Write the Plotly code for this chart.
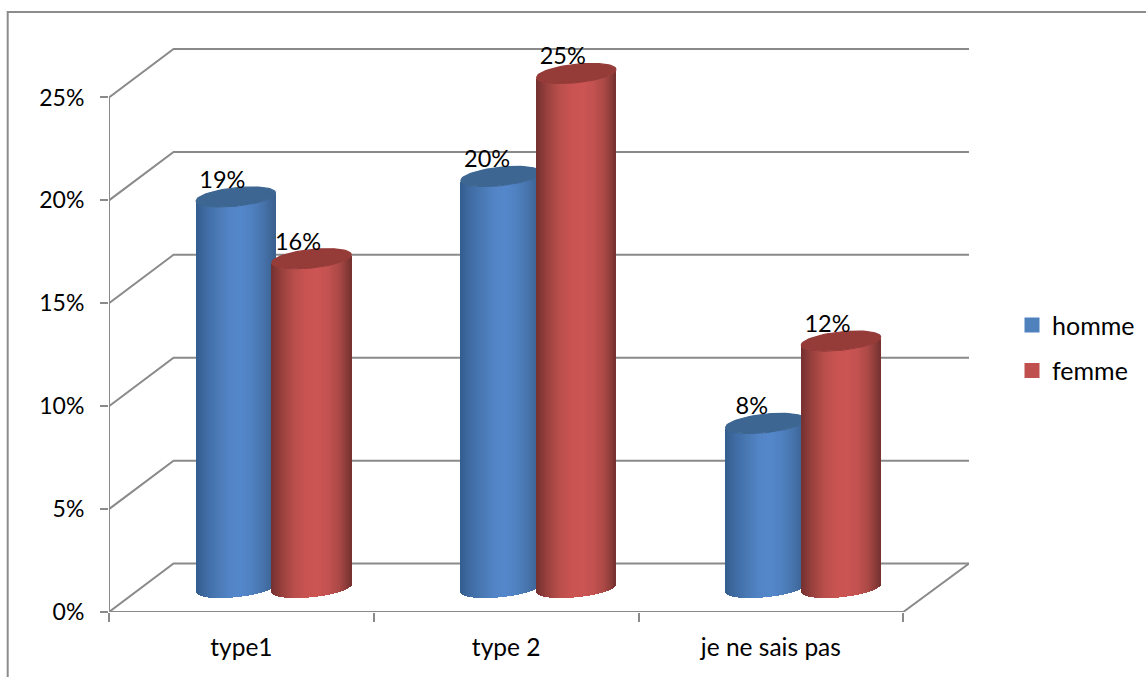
import math
import plotly.graph_objects as go

# Chart data
categories = ["type1", "type 2", "je ne sais pas"]
homme = [19, 20, 8]
femme = [16, 25, 12]
y_ticks = [0, 5, 10, 15, 20, 25]

# Drawing styles
FONT = "Lato"
GRID = "#8a8a8a"
SHADE_BLUE = ["#335d8e", "#406da5", "#4a79b5", "#5284c6", "#5487cb", "#4f80bf", "#4673aa", "#3a608f"]
SHADE_RED = ["#743030", "#9a413e", "#b84e4b", "#c85351", "#cc5553", "#c25250", "#a94845", "#763230"]
CAP_BLUE = "#3d6692"
CAP_RED = "#953b38"

# Pseudo-3D geometry, in axis units
DEPTH_X = 0.2438       # horizontal shift of the back wall
DEPTH_Y = 2.354        # vertical shift of the back wall
FLOOR = 1.165          # height of the cylinder base centres
RX = 0.15              # cylinder radius along x
TILT = 0.195           # rise of the ellipse's right end along y
RY = 0.447             # ellipse half height
OFFSETS = (0.479, 0.765)
SLICES = 80

X_MAX = 3.2483
Y_MAX = 27.451


def hex_rgb(c):
    return tuple(int(c[i:i + 2], 16) for i in (1, 3, 5))


def shade(stops, t):
    p = t * (len(stops) - 1)
    i = min(int(p), len(stops) - 2)
    f = p - i
    a, b = hex_rgb(stops[i]), hex_rgb(stops[i + 1])
    return "rgb(%d,%d,%d)" % tuple(round(a[k] + (b[k] - a[k]) * f) for k in range(3))


def lower_edge(u):
    """Height of the ellipse's lower rim, u running from -1 to 1 across it."""
    return TILT * u - RY * math.sqrt(max(0.0, 1 - u * u))


def cylinder(center, value, stops, cap, xaxis, yaxis):
    """A shaded body made of thin bars of the full value height, plus its cap."""
    step = 2 * RX / SLICES
    xs, bases, heights, colors = [], [], [], []
    for k in range(SLICES):
        u = -1 + (k + 0.5) * 2 / SLICES
        xs.append(center + u * RX)
        bases.append(FLOOR + lower_edge(u))
        heights.append(value)
        colors.append(shade(stops, (k + 0.5) / SLICES))
    body = go.Bar(x=xs, y=heights, base=bases, width=step * 1.05,
                  marker=dict(color=colors, line=dict(width=0)),
                  showlegend=False, hoverinfo="skip", xaxis=xaxis, yaxis=yaxis)
    angles = [2 * math.pi * j / 72 for j in range(73)]
    top = FLOOR + value
    lid = go.Scatter(x=[center + RX * math.cos(a) for a in angles],
                     y=[top + TILT * math.cos(a) + RY * math.sin(a) for a in angles],
                     mode="lines", fill="toself", fillcolor=cap, line=dict(width=1.2, color=cap),
                     showlegend=False, hoverinfo="skip", xaxis=xaxis, yaxis=yaxis)
    return [body, lid]


fig = go.Figure()

# Walls and floor
line_style = dict(color=GRID, width=2)
for v in y_ticks:
    fig.add_trace(go.Scatter(x=[0, DEPTH_X, X_MAX], y=[v, v + DEPTH_Y, v + DEPTH_Y],
                             mode="lines", line=line_style, showlegend=False,
                             hoverinfo="skip", cliponaxis=False))
fig.add_trace(go.Scatter(x=[0, 0, 3, X_MAX], y=[y_ticks[-1], 0, 0, DEPTH_Y],
                         mode="lines", line=line_style, showlegend=False,
                         hoverinfo="skip", cliponaxis=False))

# Legend entries
for name, color in (("homme", "#4f81bd"), ("femme", "#c0504d")):
    fig.add_trace(go.Scatter(x=[None], y=[None], mode="markers", name=name, legendgroup=name,
                             marker=dict(symbol="square", size=15, color=color)))

# Cylinders: each series has its own overlaid subplot so red sits over blue
for i in range(len(categories)):
    for t in cylinder(i + OFFSETS[0], homme[i], SHADE_BLUE, CAP_BLUE, "x2", "y2"):
        fig.add_trace(t)
for i in range(len(categories)):
    for t in cylinder(i + OFFSETS[1], femme[i], SHADE_RED, CAP_RED, "x3", "y3"):
        fig.add_trace(t)

# Value labels
label_x, label_y, label_text = [], [], []
for i in range(len(categories)):
    for off, val in ((OFFSETS[0], homme[i]), (OFFSETS[1], femme[i])):
        label_x.append(i + off - 0.051)
        label_y.append(FLOOR + val + 0.73)
        label_text.append(f"{val}%")
fig.add_trace(go.Scatter(x=label_x, y=label_y, text=label_text, mode="text",
                         textposition="middle center",
                         textfont=dict(family=FONT, size=23.5, color="black"),
                         showlegend=False, hoverinfo="skip", cliponaxis=False,
                         xaxis="x3", yaxis="y3"))

hidden_x = dict(range=[0, X_MAX], overlaying="x", visible=False, fixedrange=True)
hidden_y = dict(range=[0, Y_MAX], overlaying="y", visible=False, fixedrange=True)

fig.update_layout(
    width=1146, height=677, autosize=False,
    margin=dict(l=108.7, r=176.5, t=47, b=64.5, autoexpand=False),
    paper_bgcolor="white", plot_bgcolor="white",
    barmode="overlay", bargap=0,
    font=dict(family=FONT, size=23, color="black"),
    xaxis=dict(range=[0, X_MAX], showgrid=False, zeroline=False, showline=False,
               tickmode="array", tickvals=[i + 0.5 for i in range(len(categories))],
               ticktext=categories, ticks="", ticklabelstandoff=18,
               tickfont=dict(family=FONT, size=24.5),
               minor=dict(tickmode="array", tickvals=list(range(len(categories) + 1)),
                          ticks="outside", ticklen=9, tickwidth=2, tickcolor=GRID, showgrid=False),
               fixedrange=True),
    yaxis=dict(range=[0, Y_MAX], showgrid=False, zeroline=False, showline=False,
               tickmode="array", tickvals=y_ticks, ticktext=[f"{v}%" for v in y_ticks],
               ticks="outside", ticklen=8, tickwidth=2, tickcolor=GRID,
               tickfont=dict(family=FONT, size=23),
               ticklabelstandoff=11, fixedrange=True),
    xaxis2=hidden_x, yaxis2=hidden_y, xaxis3=hidden_x, yaxis3=hidden_y,
    legend=dict(x=1.05, xanchor="left", y=0.4677, yanchor="middle",
                bgcolor="rgba(0,0,0,0)", tracegroupgap=10,
                font=dict(family=FONT, size=25)),
    shapes=[dict(type="rect", xref="paper", yref="paper",
                 x0=-101.4 / 860.8, x1=1.3, y0=-0.2, y1=1 + 35 / 565.5,
                 line=dict(color="#8c8c8c", width=2), layer="below")],
)

fig.write_html("out.html", config=dict(displayModeBar=False))
